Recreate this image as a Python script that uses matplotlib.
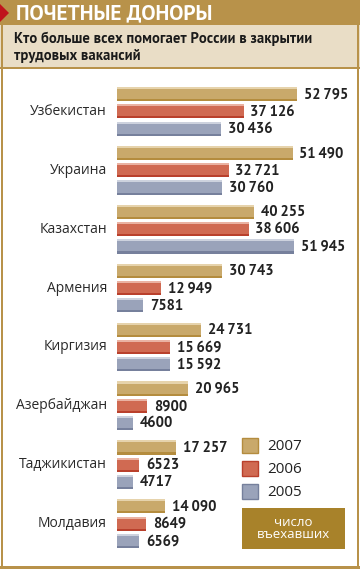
import matplotlib
matplotlib.use('Agg')
import matplotlib.pyplot as plt
from matplotlib.patches import Rectangle, Polygon

countries = ['Узбекистан', 'Украина', 'Казахстан', 'Армения', 'Киргизия',
             'Азербайджан', 'Таджикистан', 'Молдавия']
v2007 = [52795, 51490, 40255, 30743, 24731, 20965, 17257, 14090]
v2006 = [37126, 32721, 38606, 12949, 15669, 8900, 6523, 8649]
v2005 = [30436, 30760, 51945, 7581, 15592, 4600, 4717, 6569]
years = ['2007', '2006', '2005']

fill = ['#c9a96b', '#d06a52', '#9aa3ba']
dark = ['#b48c3e', '#b9402c', '#76809c']
light = ['#e6d3ac', '#eab2a2', '#cdd2de']
gold = '#b8924a'
ptsans = ['PT Sans', 'DejaVu Sans']
regular = ['Open Sans', 'DejaVu Sans']


def fmt(v):
    if v >= 10000:
        return f'{v:,}'.replace(',', '\u2009')
    return str(v)


W, H = 360, 569
fig = plt.figure(figsize=(W / 100, H / 100), dpi=100)
fig.patch.set_facecolor('white')

# background panel in pixel coords
bg = fig.add_axes([0, 0, 1, 1])
bg.set_xlim(0, W)
bg.set_ylim(H, 0)
bg.axis('off')
bg.add_patch(Rectangle((0, 0), W, 25, color=gold, lw=0))
bg.add_patch(Rectangle((0, 25), W, 43, color='#e9ddc6', lw=0))
bg.add_patch(Rectangle((0, 67), W, 2, color=gold, lw=0))
bg.add_patch(Rectangle((1, 0), 2, H, color=gold, lw=0))
bg.add_patch(Rectangle((W - 3, 25), 2, H, color=gold, lw=0))
bg.add_patch(Rectangle((0, H - 3), W, 3, color=gold, lw=0))
bg.add_patch(Polygon([(0, 4), (0, 22), (9, 13)], color='#c0141c', lw=0))
bg.text(16, 13.5, 'ПОЧЕТНЫЕ ДОНОРЫ', color='white', fontsize=15.3,
        fontweight='bold', va='center', ha='left', family=ptsans)
bg.text(14, 47, 'Кто больше всех помогает России в закрытии\nтрудовых вакансий',
        color='#1a1a1a', fontsize=10.5, fontweight='bold', va='center', ha='left',
        linespacing=1.25, family=ptsans)

# legend
for k, yr in enumerate(years):
    y0 = 438 + k * 23
    bg.add_patch(Rectangle((242, y0), 16, 15, facecolor=fill[k], edgecolor=dark[k], lw=1))
    bg.text(267, y0 + 8, yr, fontsize=11, va='center', ha='left', color='#222222',
            family=regular)
bg.add_patch(Rectangle((242, 508), 103, 41, color='#a8822a', lw=0))
bg.text(293.5, 528.5, 'число\nвъехавших', color='white', fontsize=9.5,
        ha='center', va='center', linespacing=0.9, family=regular)

# bars
left, right = 117, 357
top, bottom = 70, 560
ax = fig.add_axes([left / W, 1 - bottom / H, (right - left) / W, (bottom - top) / H])
xmax = (right - left) / 180 * 52795
unit = 17.3
ax.set_xlim(0, xmax)
ax.set_ylim((bottom - top) / unit, 0)
ax.axis('off')

series = [v2007, v2006, v2005]
h = 0.82
for i, c in enumerate(countries):
    base = 24 / unit + i * 3.405
    for j, vals in enumerate(series):
        y = base + j
        v = vals[i]
        ax.barh(y, v, height=h, color=fill[j], lw=0)
        ax.barh(y - h / 2 + 0.06, v, height=0.12, color=light[j], lw=0)
        ax.barh(y + h / 2 - 0.06, v, height=0.12, color=dark[j], lw=0)
        ax.text(v + 2000, y + 0.02, fmt(v), fontsize=10.5,
                fontweight='bold', va='center', ha='left', color='#222222',
                family=ptsans, clip_on=False)
    ax.text(-xmax * 10 / 240, base + 1, c, fontsize=10, va='center', ha='right',
            color='#2a2a2a', family=regular, clip_on=False)

fig.savefig('out.png', dpi=100)
